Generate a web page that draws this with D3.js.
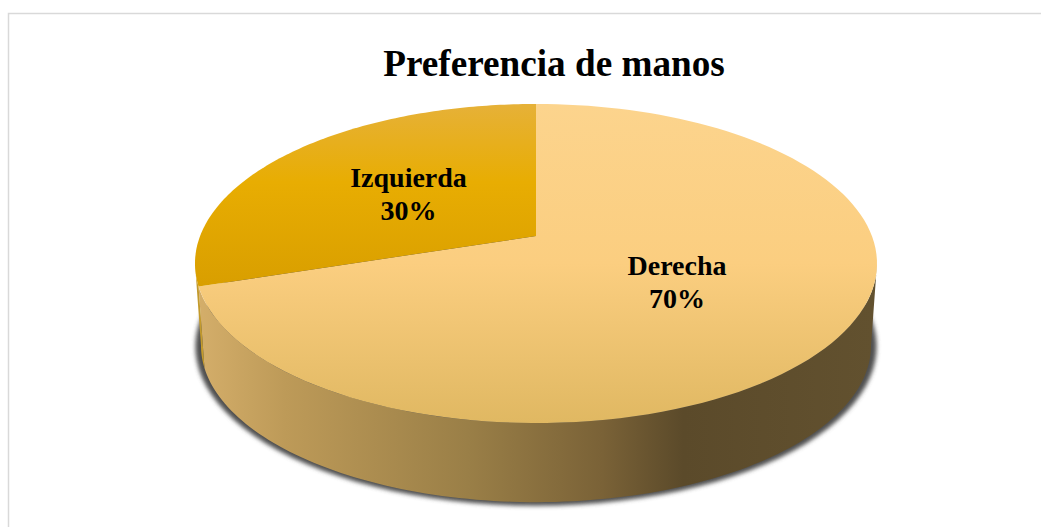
<!DOCTYPE html>
<html><head><meta charset="utf-8">
<script src="https://cdnjs.cloudflare.com/ajax/libs/d3/7.8.5/d3.min.js"></script>
<style>html,body{margin:0;padding:0;background:#fff}svg{display:block}</style>
</head><body><div id="c"></div>
<script>
const categories = ["Derecha", "Izquierda"];
const values = [70, 30];
const labels = ["70%", "30%"];
const title = "Preferencia de manos";

const W = 1041, H = 527;
const svg = d3.select("#c").append("svg").attr("width", W).attr("height", H);
const defs = svg.append("defs");

function grad(id, attrs, stops) {
  const g = defs.append("linearGradient").attr("id", id).attr("gradientUnits", "userSpaceOnUse");
  Object.entries(attrs).forEach(([k, v]) => g.attr(k, v));
  stops.forEach(s => g.append("stop").attr("offset", s[0]).attr("stop-color", s[1]));
}
grad("topD", {x1:0,x2:0,y1:104,y2:423}, [[0,"#fcd48d"],[0.5,"#fbce80"],[1,"#e0b862"]]);
grad("topI", {x1:0,x2:0,y1:104,y2:290}, [[0,"#e6b138"],[0.42,"#e8ad02"],[1,"#d89e00"]]);
grad("sideD", {x1:198,x2:872,y1:0,y2:0}, [[0,"#d4ae6a"],[0.13,"#bd9a58"],[0.4,"#9a7f47"],[0.6,"#7a6237"],[0.72,"#5b4a2a"],[1,"#62512f"]]);
defs.append("filter").attr("id", "blur").attr("x", "-5%").attr("y", "-5%").attr("width", "110%").attr("height", "110%")
  .append("feGaussianBlur").attr("stdDeviation", 2.2);

// Frame
svg.append("path").attr("d", `M8.5,${H}V13.5H${W}`).attr("fill", "none").attr("stroke", "#d9d9d9").attr("stroke-width", 1.5);

// Perspective projection of the pie disc
const k = 0.1724;
function projector(cx, cy, a, b) {
  const sx = d3.scaleLinear().domain([-1, 1]).range([cx - a, cx + a]);
  const sy = d3.scaleLinear().domain([-1, 1]).range([cy + b, cy - b]);
  return t => {
    const u = Math.sin(t), v = Math.cos(t), w = 1 + k * v;
    return [sx(u / w), sy(v / w)];
  };
}
const topP = projector(536, 236, 335.9, 154.8);
const botP = projector(536, 318.5, 330, 152);
const shP  = projector(536, 319, 335.5, 154.5);

const pie = d3.pie().sort(null).value(d => d);
const arcs = pie(values);
const line = d3.line();
const sweep = (p, a0, a1) => d3.range(0, 121).map(i => p(a0 + (a1 - a0) * i / 120));

const tanR = Math.acos(-k), tanL = 2 * Math.PI - tanR;

// Shadow
svg.append("path").attr("d", line(sweep(shP, 0, 2 * Math.PI)) + "Z")
  .attr("fill", "#505050").attr("filter", "url(#blur)");

// Side walls
const wall = (a0, a1) => line(sweep(topP, a0, a1).concat(sweep(botP, a0, a1).reverse())) + "Z";
svg.append("path").attr("d", wall(tanR, arcs[0].endAngle)).attr("fill", "url(#sideD)");
svg.append("path").attr("d", wall(arcs[1].startAngle, tanL)).attr("fill", "#c39a2c");

// Top slices
const apex = [536, 236];
const slice = d => line([apex].concat(sweep(topP, d.startAngle, d.endAngle))) + "Z";
svg.selectAll("path.slice").data(arcs).enter().append("path")
  .attr("class", "slice").attr("d", slice)
  .attr("fill", (d, i) => i ? "url(#topI)" : "url(#topD)");

// Text
const serif = "'Liberation Serif','Times New Roman',serif";
svg.append("text").attr("x", 554).attr("y", 76).attr("text-anchor", "middle")
  .attr("font-family", serif).attr("font-weight", 700).attr("font-size", 37.2).attr("fill", "#000").text(title);

const labelPos = [[677, 275], [408.5, 187]];
categories.forEach((c, i) => {
  const t = svg.append("text").attr("text-anchor", "middle").attr("font-family", serif)
    .attr("font-weight", 700).attr("font-size", 28).attr("fill", "#000");
  t.append("tspan").attr("x", labelPos[i][0]).attr("y", labelPos[i][1]).text(c);
  t.append("tspan").attr("x", labelPos[i][0]).attr("y", labelPos[i][1] + 33).text(labels[i]);
});
</script></body></html>
